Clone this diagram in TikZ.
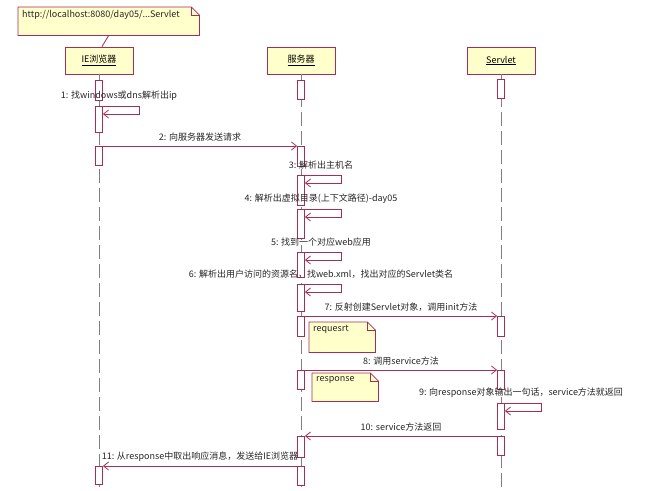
\documentclass[tikz,border=0pt]{standalone}
\usepackage{fontspec}
\setmainfont{Noto Sans CJK SC}
\usepackage{tikz}
\usetikzlibrary{arrows.meta,positioning,calc}
\definecolor{Wine}{HTML}{A32E58}
\definecolor{Note}{HTML}{FFFFCC}
\definecolor{Life}{HTML}{808080}

\begin{document}
\begin{tikzpicture}[x=1pt,y=-1pt,font=\fontsize{9}{10}\selectfont,
  head/.style={draw=Wine,fill=Note,line width=0.8pt,minimum width=68pt,minimum height=27pt,inner sep=0pt},
  act/.style={draw=Wine,fill=white,line width=0.8pt,minimum width=7pt,inner sep=0pt,anchor=north},
  life/.style={Life,line width=1pt,dash pattern=on 14pt off 5pt},
  msg/.style={Wine,line width=0.8pt,-{Straight Barb[length=5pt,width=8pt]}},
  lbl/.style={inner sep=1pt,text=black!85},
  notebox/.style={inner sep=0pt,anchor=north west}]
  \useasboundingbox (0,0) rectangle (650,490);
  \coordinate (bot) at (0,490);
  % lifelines
  \node[head] (ie) at (99,60.5) {\underline{IE浏览器}};
  \node[head] (sv) at (301,60.5) {\underline{服务器}};
  \node[head] (sl) at (501,60.5) {\underline{Servlet}};
  \foreach \h in {ie,sv,sl} \draw[life] (\h.south) -- (\h.south |- bot);
  % activations
  \foreach \n/\x/\t/\b in {ie0/99/80/100, ie1/99/106/132, ie2/99/146/165, ie3/99/466/484,
      sv0/301/80/99, sv1/301/146/166, sv2/301/175/205, sv3/301/209/238, sv4/301/252/277,
      sv5/301/284/311, sv6/301/316/336, sv7/301/370/389, sv8/301/436/457, sv9/301/466/485,
      sl0/501/79/98, sl1/501/316/336, sl2/501/370/389, sl3/501/403/429, sl4/501/436/455}
    \node[act,minimum height={(\b-\t)*1pt}] (\n) at (\x,\t) {};
  % notes
  \node[notebox,minimum width=181pt,minimum height=28pt] (url) at (18,7) {};
  \node[notebox,minimum width=66pt,minimum height=30pt] (rq) at (309,322) {};
  \node[notebox,minimum width=66pt,minimum height=28pt] (rp) at (312,373) {};
  \foreach \m in {url,rq,rp} {
    \filldraw[Wine,fill=Note,line width=0.8pt] (\m.north west) -- ([xshift=-8pt]\m.north east)
      -- ([yshift=-8pt]\m.north east) -- (\m.south east) -- (\m.south west) -- cycle;
    \draw[Wine,line width=0.8pt] ([xshift=-8pt]\m.north east) |- ([yshift=-8pt]\m.north east);
  }
  \node[lbl,anchor=north west] (urlt) at ([shift={(3pt,-2pt)}]url.north west) {http://localhost:8080/day05/...Servlet};
  \node[lbl,anchor=north west] (rqt) at ([shift={(3pt,-2pt)}]rq.north west) {requesrt};
  \node[lbl,anchor=north west] (rpt) at ([shift={(3pt,-2pt)}]rp.north west) {response};
  \draw[Wine,line width=0.8pt] (url.south) -- ([xshift=3pt]ie.north);
  % self calls
  \foreach \a/\t in {ie1/{1: 找windows或dns解析出ip}, sv2/{3: 解析出主机名},
      sv3/{4: 解析出虚拟目录(上下文路径)-day05}, sv4/{5: 找到一个对应web应用},
      sv5/{6: 解析出用户访问的资源名，找web.xml，找出对应的Servlet类名},
      sl3/{9: 向response对象输出一句话，service方法就返回}} {
    \draw[msg] (\a.north east) -- ++(36,0) |- ([yshift=-8pt]\a.north east);
    \node[lbl] (l-\a) at ([xshift=20pt,yshift=10pt]\a.north) {\t};
  }
  % messages
  \draw[msg] (ie2.north east) -- node[lbl,above=3pt] (l2) {2: 向服务器发送请求} (sv1.north west);
  \draw[msg] (sv6.north east) -- node[lbl,above=3pt] (l7) {7: 反射创建Servlet对象，调用init方法} (sl1.north west);
  \draw[msg] (sv7.north east) -- node[lbl,above=3pt] (l8) {8: 调用service方法} (sl2.north west);
  \draw[msg] (sl4.north west) -- node[lbl,above=3pt] (l10) {10: service方法返回} (sv8.north east);
  \draw[msg] (sv9.north west) -- node[lbl,above=3pt] (l11) {11: 从response中取出响应消息，发送给IE浏览器} (ie3.north east);
\end{tikzpicture}
\end{document}
